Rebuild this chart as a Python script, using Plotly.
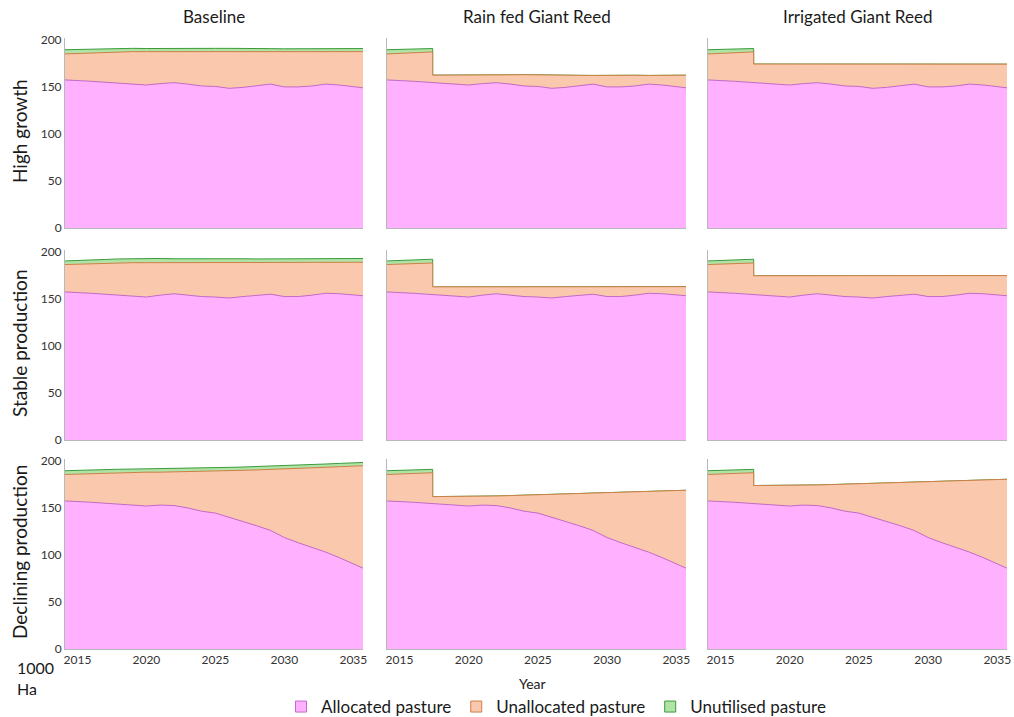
import numpy as np
import plotly.graph_objects as go
from plotly.subplots import make_subplots

# Time axis; 2017.4 appears twice so the giant reed conversion is drawn as a vertical step
YEARS = [2014, 2015, 2016, 2017, 2017.4, 2017.4, 2018, 2019, 2020, 2021, 2022, 2023,
         2024, 2025, 2026, 2027, 2028, 2029, 2030, 2031, 2032, 2033, 2034, 2035, 2036]
STEP = 5  # first index after the conversion

ROW_TITLES = ["High growth", "Stable production", "Declining production"]
COL_TITLES = ["Baseline", "Rain fed Giant Reed", "Irrigated Giant Reed"]
SERIES = ["Allocated pasture", "Unallocated pasture", "Unutilised pasture"]
X_TICKS = [2015, 2020, 2025, 2030, 2035]
Y_TICKS = [0, 50, 100, 150, 200]

# Allocated pasture (1000 ha) for each livestock scenario
allocated_high = [157.5, 157, 156, 155, 154.6, 154.6, 153.5, 152.5, 152, 153.5, 154.5, 153,
                  151, 150.5, 148.5, 149.5, 151.5, 153, 150, 150, 151, 153, 152, 150.5, 148.5]
allocated_stable = [157.5, 157, 156, 155, 154.6, 154.6, 153.5, 152.5, 152, 154, 155.5, 154,
                    152.5, 152, 151, 152.5, 154, 155, 152.5, 152.5, 154, 156, 155.5, 154, 153]
allocated_declining = [157.5, 157, 156, 155, 154.6, 154.6, 153.5, 152.5, 152, 153, 152.5, 150,
                       146.5, 144.5, 140, 136, 131, 126, 118.5, 113, 108, 103, 97, 90.5, 84]

# Unallocated pasture under the baseline land use
unallocated_high = [27.5, 28.5, 30.5, 32, 32.6, 32.6, 34, 35, 35.5, 34, 33, 34.5,
                    36.8, 37.3, 39, 38, 35.7, 34.5, 37.5, 37.5, 36.5, 34.3, 35.5, 37, 39]
unallocated_stable = [29, 30, 31.5, 33, 33.6, 33.6, 35, 36, 36.5, 34.5, 33, 34.5,
                      36, 36.5, 37.5, 36, 34.5, 33.5, 36, 36, 34.5, 32.5, 33, 34.5, 36]
unallocated_declining = [28, 29, 30.7, 32.2, 32.8, 32.8, 34.1, 35.3, 36, 35, 35.7, 38.5,
                         42.3, 44.7, 49.6, 54, 59.4, 64.8, 72.9, 79, 84.6, 90.2, 96.8, 103.9, 111]

# Unutilised pasture under the baseline land use
unutilised_high = [4.5, 4.3, 4, 3.8, 3.6, 3.6, 3.5, 3.5, 3.3, 3.2, 3.3, 3.5,
                   3.2, 3.2, 3.5, 3.2, 3, 3.2, 3, 3.2, 3.3, 3.2, 3.2, 3.3, 3.3]
unutilised_stable = [3.8, 4, 4, 4, 4, 4, 4, 4.2, 4.5, 4.5, 4.2, 4.3,
                     4.5, 4.6, 4.4, 4.2, 4, 4, 4.2, 4.2, 4.2, 4, 4, 4, 4]
unutilised_declining = [4, 4, 4, 3.8, 3.6, 3.6, 3.5, 3.5, 3.5, 3.4, 3.5, 3.5,
                        3.5, 3.4, 3.5, 3.5, 3.5, 3.5, 3.5, 3.5, 3.5, 3.5, 3.5, 3.5, 3.5]

# Remaining pasture (allocated + unallocated) once giant reed is planted (from 2017.4 on)
rainfed_total_high = [162.5, 162.5, 162.3, 162.2, 162.4, 162.6, 162.8, 163, 163, 162.8,
                      162.5, 162.3, 162.2, 162.5, 162.6, 162.4, 162.2, 162.3, 162.5, 162.5]
rainfed_total_stable = [162.8, 162.8, 162.7, 162.6, 162.8, 163, 163.2, 163.3, 163.3, 163.1,
                        162.9, 162.7, 162.6, 162.8, 163, 162.9, 162.7, 162.8, 163, 163]
rainfed_total_declining = [162, 162, 162.1, 162.2, 162.4, 162.7, 163.1, 163.5, 163.9, 164.3,
                           164.7, 165.1, 165.5, 165.9, 166.4, 166.9, 167.4, 167.9, 168.4, 168.9]
irrigated_total_high = [174.3, 174.3, 174.2, 174, 174, 174.2, 174.4, 174.5, 174.5, 174.3,
                        174.2, 174, 174, 174.2, 174.3, 174.2, 174, 174, 174.2, 174.2]
irrigated_total_stable = [174.6, 174.6, 174.5, 174.4, 174.5, 174.7, 174.9, 175, 175, 174.8,
                          174.6, 174.5, 174.4, 174.6, 174.8, 174.7, 174.5, 174.6, 174.8, 174.8]
irrigated_total_declining = [173.8, 173.8, 173.8, 173.9, 174.1, 174.4, 174.8, 175.2, 175.6, 176,
                             176.4, 176.8, 177.2, 177.6, 178.1, 178.6, 179.1, 179.6, 180.1, 180.6]

ALLOCATED = [allocated_high, allocated_stable, allocated_declining]
UNALLOCATED = [unallocated_high, unallocated_stable, unallocated_declining]
UNUTILISED = [unutilised_high, unutilised_stable, unutilised_declining]
REED_TOTALS = [
    [rainfed_total_high, irrigated_total_high],
    [rainfed_total_stable, irrigated_total_stable],
    [rainfed_total_declining, irrigated_total_declining],
]

FILL = {"alloc": "#FFB1FF", "unalloc": "#FAC8AC", "unutil": "#B2E3A6"}
EDGE = {"alloc": "#C46AC8", "unalloc": "#CC8048", "unutil": "#3C9C3C"}
FONT = "Lato, Carlito, Calibri, sans-serif"

fig = make_subplots(rows=3, cols=3)

for r in range(3):
    alloc = np.array(ALLOCATED[r], dtype=float)
    for c in range(3):
        unalloc = np.array(UNALLOCATED[r], dtype=float)
        unutil = np.array(UNUTILISED[r], dtype=float)
        if c > 0:
            total = np.array(REED_TOTALS[r][c - 1], dtype=float)
            unalloc[STEP:] = total - alloc[STEP:]
            unutil[STEP:] = 0.0
        level1 = alloc
        level2 = alloc + unalloc
        level3 = level2 + unutil
        # opaque fills layered from the top band down
        for key, level in (("unutil", level3), ("unalloc", level2), ("alloc", level1)):
            fig.add_trace(
                go.Scatter(
                    x=YEARS, y=level, mode="lines", fill="tozeroy",
                    fillcolor=FILL[key], line=dict(color=EDGE[key], width=1),
                    showlegend=False, hoverinfo="skip",
                ),
                row=r + 1, col=c + 1,
            )

# legend swatches
for key, name in zip(("alloc", "unalloc", "unutil"), SERIES):
    fig.add_trace(
        go.Scatter(
            x=[None], y=[None], mode="markers", name=name,
            marker=dict(symbol="square", size=11, color=FILL[key],
                        line=dict(color=EDGE[key], width=1)),
        ),
        row=3, col=1,
    )

W, H = 1014, 717
ML, MR, MT, MB = 65, 7, 38, 68
pw, ph = W - ML - MR, H - MT - MB

def px_x(x):
    return (x - ML) / pw

def px_y(y):
    return (H - MB - y) / ph

col_px = [(65, 363), (387, 686), (708, 1007)]
row_px = [(38, 228), (250, 440), (459, 649)]

for r in range(3):
    for c in range(3):
        idx = r * 3 + c + 1
        sfx = "" if idx == 1 else str(idx)
        fig.layout["xaxis" + sfx].update(
            domain=[max(0, px_x(col_px[c][0])), min(1, px_x(col_px[c][1]))],
            range=[2014.1, 2035.7], tickvals=X_TICKS,
            showticklabels=(r == 2), ticks="", showgrid=False, zeroline=False,
            showline=True, linecolor="#B8B8B8", linewidth=1,
            tickfont=dict(family=FONT, size=12, color="#333333"),
        )
        fig.layout["yaxis" + sfx].update(
            domain=[max(0, px_y(row_px[r][1])), min(1, px_y(row_px[r][0]))],
            range=[0, 202], tickvals=Y_TICKS,
            showticklabels=(c == 0), ticks="", showgrid=False, zeroline=False,
            showline=True, linecolor="#B8B8B8", linewidth=1,
            tickfont=dict(family=FONT, size=12, color="#333333"),
        )

annotations = []
for c, title in enumerate(COL_TITLES):
    annotations.append(dict(
        text=title, xref="paper", yref="paper",
        x=px_x((col_px[c][0] + col_px[c][1]) / 2), y=px_y(16),
        xanchor="center", yanchor="middle", showarrow=False,
        font=dict(family=FONT, size=17, color="#1a1a1a"),
    ))
for r, title in enumerate(ROW_TITLES):
    annotations.append(dict(
        text=title, xref="paper", yref="paper",
        x=px_x(19), y=px_y((row_px[r][0] + row_px[r][1]) / 2 - 2),
        xanchor="center", yanchor="middle", textangle=-90, showarrow=False,
        font=dict(family=FONT, size=19, color="#1a1a1a"),
    ))
annotations.append(dict(
    text="Year", xref="paper", yref="paper", x=px_x(532), y=px_y(683),
    xanchor="center", yanchor="middle", showarrow=False,
    font=dict(family=FONT, size=14, color="#1a1a1a"),
))
annotations.append(dict(
    text="1000<br>Ha", xref="paper", yref="paper", x=px_x(15), y=px_y(678),
    xanchor="left", yanchor="middle", align="left", showarrow=False,
    font=dict(family=FONT, size=16, color="#1a1a1a"),
))

fig.update_layout(
    width=W, height=H,
    margin=dict(l=ML, r=MR, t=MT, b=MB, autoexpand=False),
    paper_bgcolor="white", plot_bgcolor="white",
    annotations=annotations,
    showlegend=True,
    legend=dict(
        orientation="h", x=px_x(556), y=px_y(707), xanchor="center", yanchor="middle",
        font=dict(family=FONT, size=17, color="#1a1a1a"),
        bgcolor="rgba(0,0,0,0)", itemclick=False,
    ),
)

fig.write_html("out.html")
